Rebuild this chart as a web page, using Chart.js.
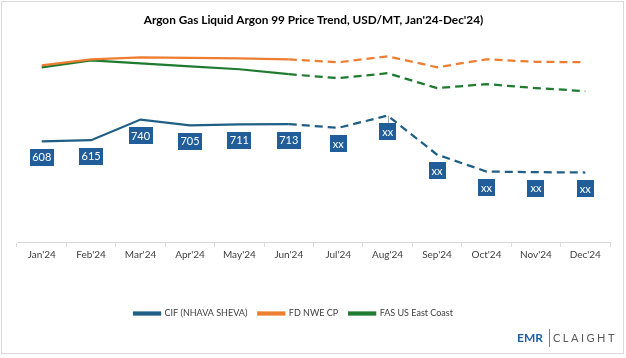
<!DOCTYPE html>
<html>
<head>
<meta charset="utf-8">
<script src="https://cdn.jsdelivr.net/npm/chart.js@4.4.1/dist/chart.umd.min.js"></script>
<style>
  html, body { margin: 0; padding: 0; background: #fff; }
  #wrap { width: 626px; height: 358px; position: relative; }
</style>
</head>
<body>
<div id="wrap"><canvas id="chart" width="626" height="358"></canvas></div>
<script>
const months = ["Jan'24", "Feb'24", "Mar'24", "Apr'24", "May'24", "Jun'24", "Jul'24", "Aug'24", "Sep'24", "Oct'24", "Nov'24", "Dec'24"];
const cifValues = [608, 615, 740, 705, 711, 713, 690, 764, 528, 426, 422, 420];
const cifLabels = ["608", "615", "740", "705", "711", "713", "xx", "xx", "xx", "xx", "xx", "xx"];
const fdNweValues = [1068, 1104, 1116, 1113, 1110, 1104, 1086, 1122, 1056, 1104, 1089, 1086];
const fasUsValues = [1056, 1098, 1080, 1062, 1044, 1014, 990, 1020, 930, 954, 930, 912];
const lastActual = 5; // after Jun'24 the lines are forecast (dashed)

const FONT = "Lato, 'Liberation Sans', sans-serif";
const dashAfter = (ctx) => (ctx.p0DataIndex >= lastActual ? [8, 5] : undefined);

const boxLabels = {
  id: "boxLabels",
  afterDatasetsDraw(chart) {
    const { ctx } = chart;
    const meta = chart.getDatasetMeta(0);
    ctx.save();
    ctx.font = "11px " + FONT;
    ctx.textAlign = "center";
    ctx.textBaseline = "middle";
    meta.data.forEach((pt, i) => {
      const txt = cifLabels[i];
      const w = txt === "xx" ? 17 : 24;
      const h = 17;
      const cy = pt.y + 16;
      if (i === 7) {
        ctx.strokeStyle = "#a6a6a6";
        ctx.lineWidth = 1;
        ctx.beginPath();
        ctx.moveTo(Math.round(pt.x) + 0.5, pt.y);
        ctx.lineTo(Math.round(pt.x) + 0.5, cy - h / 2);
        ctx.stroke();
      }
      ctx.fillStyle = "#215E99";
      ctx.fillRect(Math.round(pt.x - w / 2), Math.round(cy - h / 2), w, h);
      ctx.fillStyle = "#ffffff";
      ctx.fillText(txt, pt.x, cy + 0.5);
    });
    ctx.restore();
  }
};

// legend in the reference sits a little left of centre
const legendShift = {
  id: "legendShift",
  afterLayout(chart) {
    if (chart.legend) {
      chart.legend.left -= 20;
      chart.legend.right -= 20;
    }
  }
};

const frame = {
  id: "frame",
  afterDraw(chart) {
    const { ctx } = chart;
    ctx.save();
    ctx.strokeStyle = "#d9d9d9";
    ctx.lineWidth = 1;
    ctx.strokeRect(1.5, 1.5, 622, 352);
    // logo
    ctx.textBaseline = "middle";
    ctx.font = "bold 12px " + FONT;
    ctx.fillStyle = "#1f5fa8";
    ctx.textAlign = "left";
    ctx.fillText("EMR", 517, 338);
    ctx.strokeStyle = "#7f7f7f";
    ctx.beginPath();
    ctx.moveTo(549.5, 329);
    ctx.lineTo(549.5, 347);
    ctx.stroke();
    ctx.font = "11px " + FONT;
    ctx.fillStyle = "#595959";
    ctx.letterSpacing = "2.5px";
    ctx.fillText("CLAIGHT", 553, 338);
    ctx.restore();
  }
};

new Chart(document.getElementById("chart"), {
  type: "line",
  data: {
    labels: months,
    datasets: [
      {
        label: "CIF (NHAVA SHEVA)",
        data: cifValues,
        borderColor: "#1F5F86",
        backgroundColor: "#1F5F86",
        borderWidth: 2.25,
        pointRadius: 0,
        segment: { borderDash: dashAfter },
      },
      {
        label: "FD NWE CP",
        data: fdNweValues,
        borderColor: "#ED7D31",
        backgroundColor: "#ED7D31",
        borderWidth: 2.25,
        pointRadius: 0,
        segment: { borderDash: dashAfter },
      },
      {
        label: "FAS US East Coast",
        data: fasUsValues,
        borderColor: "#1E7B30",
        backgroundColor: "#1E7B30",
        borderWidth: 2.25,
        pointRadius: 0,
        segment: { borderDash: dashAfter },
      },
    ],
  },
  options: {
    responsive: false,
    animation: false,
    layout: { padding: { left: 17, right: 16, top: 0, bottom: 30 } },
    plugins: {
      title: {
        display: true,
        text: "Argon Gas Liquid Argon 99 Price Trend, USD/MT, Jan'24-Dec'24)",
        color: "#000",
        font: { family: FONT, size: 11.8, weight: "bold" },
        padding: { top: 13, bottom: 8 },
      },
      legend: {
        position: "bottom",
        labels: {
          color: "#404040",
          font: { family: FONT, size: 9 },
          boxWidth: 26,
          boxHeight: 2,
          padding: 11,
        },
      },
      tooltip: { enabled: false },
    },
    scales: {
      x: {
        offset: true,
        border: { color: "#d9d9d9" },
        grid: { offset: true, drawOnChartArea: false, tickLength: 5, color: "#d9d9d9" },
        ticks: { color: "#404040", font: { family: FONT, size: 10 }, padding: 2, maxRotation: 0 },
        afterFit(scale) { scale.height = 56; },
      },
      y: { display: false, min: 0, max: 1250 },
    },
  },
  plugins: [boxLabels, legendShift, frame],
});
</script>
</body>
</html>
